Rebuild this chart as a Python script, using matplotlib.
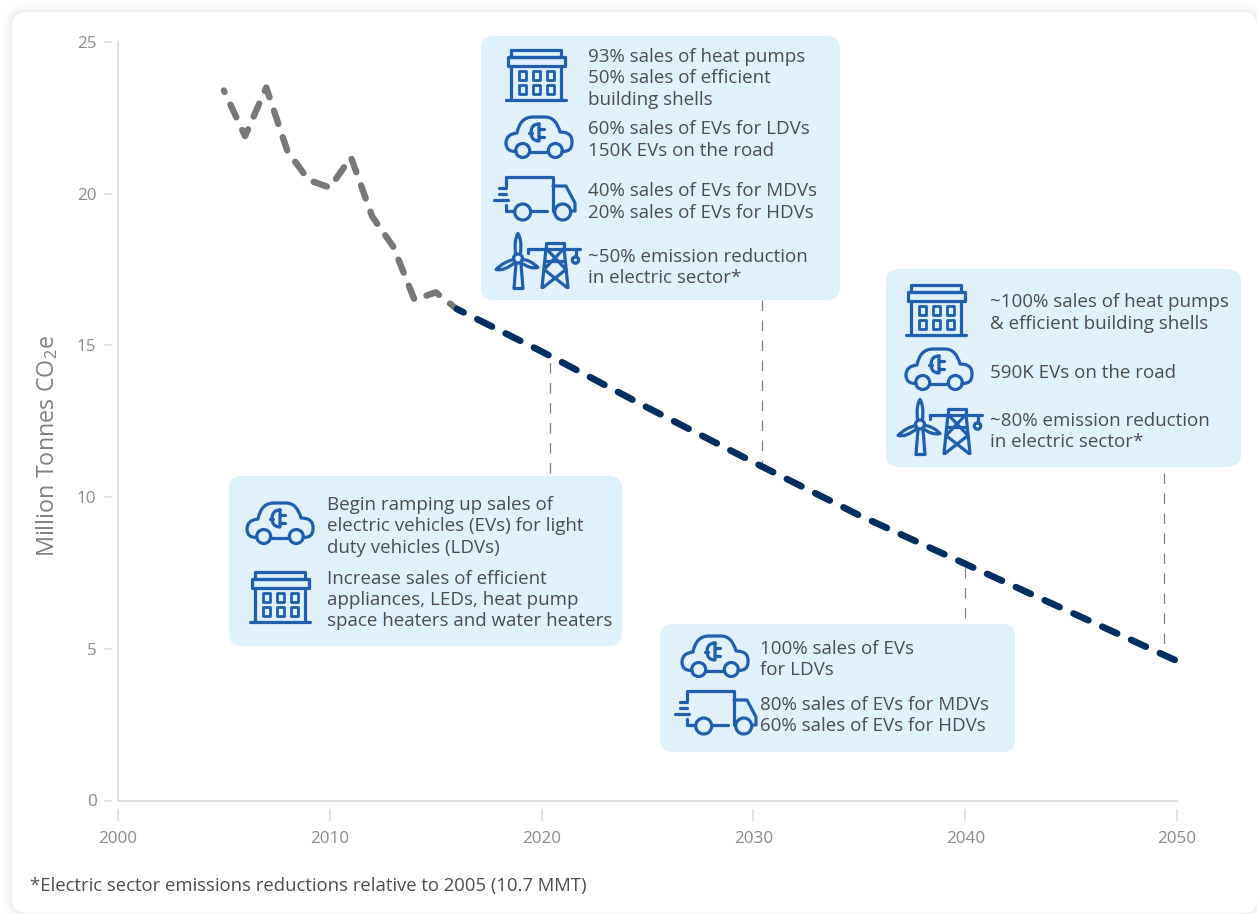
import matplotlib
matplotlib.use("Agg")
import matplotlib.pyplot as plt
from matplotlib.patches import FancyBboxPatch, Circle, Rectangle, PathPatch
from matplotlib.path import Path

plt.rcParams['font.family'] = ['Open Sans', 'DejaVu Sans']
plt.rcParams['mathtext.default'] = 'regular'

W, H = 1257, 914

hist_years = [2005, 2006, 2007, 2008, 2009, 2010, 2011, 2012, 2013, 2014, 2015, 2016]
hist_values = [23.4, 21.9, 23.5, 21.4, 20.45, 20.2, 21.2, 19.25, 18.25, 16.5, 16.75, 16.2]
proj_years = [2016, 2020, 2025, 2030, 2035, 2040, 2045, 2050]
proj_values = [16.2, 14.8, 12.95, 11.15, 9.4, 7.8, 6.2, 4.6]

x_ticks = [2000, 2010, 2020, 2030, 2040, 2050]
y_ticks = [0, 5, 10, 15, 20, 25]

# year, line top, line bottom
leader_years = [2020.4, 2030.4, 2040.0, 2049.4]
leader_tops = [14.6, 11.0, 7.75, 4.85]
leader_bottoms = [10.8, 16.5, 6.03, 10.8]

box_top_text = ["93% sales of heat pumps", "50% sales of efficient", "building shells",
                "60% sales of EVs for LDVs", "150K EVs on the road",
                "40% sales of EVs for MDVs", "20% sales of EVs for HDVs",
                "~50% emission reduction", "in electric sector*"]
box_right_text = ["~100% sales of heat pumps", "& efficient building shells",
                  "590K EVs on the road",
                  "~80% emission reduction", "in electric sector*"]
box_left_text = ["Begin ramping up sales of", "electric vehicles (EVs) for light",
                 "duty vehicles (LDVs)",
                 "Increase sales of efficient", "appliances, LEDs, heat pump",
                 "space heaters and water heaters"]
box_bottom_text = ["100% sales of EVs", "for LDVs",
                   "80% sales of EVs for MDVs", "60% sales of EVs for HDVs"]

footnote = "*Electric sector emissions reductions relative to 2005 (10.7 MMT)"

BLUE = "#1f5fae"
BOX = "#dff1fa"
TXT = "#4d4d4f"
AXIS = "#dcdcdc"
TICKTXT = "#8c8c8c"

fig = plt.figure(figsize=(W / 100, H / 100), dpi=100, facecolor="#ffffff")

# full-figure layer in pixel units for the card, boxes and icons
bg = fig.add_axes([0, 0, 1, 1], zorder=0)
bg.set_xlim(0, W)
bg.set_ylim(H, 0)
bg.axis("off")

for grow, a in [(9, 0.008), (7, 0.01), (5, 0.012), (3, 0.016), (1.5, 0.02)]:
    bg.add_patch(FancyBboxPatch((12 - grow, 12 - grow), 1245 + 2 * grow, 901 + 2 * grow,
                                boxstyle="round,pad=0,rounding_size=%g" % (14 + grow),
                                fc="#000000", ec="none", alpha=a))
bg.add_patch(FancyBboxPatch((12, 12), 1245, 901, boxstyle="round,pad=0,rounding_size=14",
                            fc="white", ec="none"))

ax = fig.add_axes([118 / W, 1 - 800.5 / H, (1177 - 118) / W, (800.5 - 42) / H], zorder=1)
ax.patch.set_alpha(0)
ax.set_xlim(2000, 2050)
ax.set_ylim(0, 25)
ax.set_xticks(x_ticks)
ax.set_yticks(y_ticks)
for s in ["top", "right"]:
    ax.spines[s].set_visible(False)
# ticks sit a little away from the axis lines
ax.spines["left"].set_position(("outward", 4))
ax.spines["bottom"].set_position(("outward", 6))
ax.spines["left"].set_visible(False)
ax.spines["bottom"].set_visible(False)
ax.axvline(2000, color=AXIS, lw=1.3, clip_on=False, zorder=1)
ax.axhline(0, color=AXIS, lw=1.3, clip_on=False, zorder=1)
ax.tick_params(axis="y", length=6, width=1.1, color=AXIS, labelcolor=TICKTXT, labelsize=12.3, pad=5.5)
ax.tick_params(axis="x", length=8.5, width=1.1, color=AXIS, labelcolor=TICKTXT, labelsize=12.3, pad=7.5)
ax.set_ylabel("Million Tonnes CO$_2$e", fontsize=16.8, color="#808080", labelpad=12, y=0.467)

# leaders are dashed starting from the box end
for x, t, b in zip(leader_years, leader_tops, leader_bottoms):
    ax.plot([x, x], [b, t], color="#808080", lw=0.9, dashes=(8.4, 7.6), zorder=2, clip_on=False)

ax.plot(hist_years, hist_values, color="#77787b", lw=4.6, ls=(1.95, (2.19, 2.19)), dash_capstyle="round",
        dash_joinstyle="round", zorder=3, clip_on=False)
ax.plot(proj_years, proj_values, color="#002f5f", lw=4.8, ls=(1.32, (2.45, 2.3)), dash_capstyle="round",
        zorder=4, clip_on=False)

# boxes and their contents go over the lines
top = fig.add_axes([0, 0, 1, 1], zorder=2)
top.set_xlim(0, W)
top.set_ylim(H, 0)
top.axis("off")

for x0, y0, x1, y1 in [(481, 36, 840, 300), (886, 269, 1241, 467), (229, 476, 622, 646), (660, 624, 1015, 752)]:
    top.add_patch(FancyBboxPatch((x0, y0), x1 - x0, y1 - y0, boxstyle="round,pad=0,rounding_size=13",
                                 fc=BOX, ec="none"))

for tx, ys, lines in [(588, [57, 78, 100, 129, 151, 191, 213, 257, 278], box_top_text),
                      (990, [302, 324, 373, 421, 442], box_right_text),
                      (327, [505, 526, 548, 579, 600, 621], box_left_text),
                      (760, [649, 670, 705, 726], box_bottom_text)]:
    for y, s in zip(ys, lines):
        top.text(tx, y, s, fontsize=13.5, color=TXT, va="center", ha="left")

top.text(30, 886, footnote, fontsize=13.3, color=TXT, va="center", ha="left")

LW = 2.3


def stroke(x, y, pts, codes=None):
    pts = [(x + px, y + py) for px, py in pts]
    if codes is None:
        codes = [Path.MOVETO] + [Path.LINETO] * (len(pts) - 1)
    top.add_patch(PathPatch(Path(pts, codes), fc="none", ec=BLUE, lw=LW, capstyle="round",
                            joinstyle="round"))


def ring(x, y, cx, cy, r):
    top.add_patch(Circle((x + cx, y + cy), r, fc="none", ec=BLUE, lw=LW))


def box(x, y, x0, y0, x1, y1, lw=LW):
    top.add_patch(Rectangle((x + x0, y + y0), x1 - x0, y1 - y0, fc="none", ec=BLUE, lw=lw, joinstyle="round"))


def building(x, y):
    box(x, y, 5, 0, 55, 7)
    box(x, y, 1.5, 7, 58.5, 16)
    stroke(x, y, [(5, 16), (5, 49.5)])
    stroke(x, y, [(55, 16), (55, 49.5)])
    stroke(x, y, [(0, 49.5), (60, 49.5)])
    for wy in [21, 35]:
        for wx in [13, 27, 41]:
            box(x, y, wx, wy, wx + 6.5, wy + 9, lw=2.0)


def car(x, y):
    c3 = Path.CURVE3
    l = Path.LINETO
    m = Path.MOVETO
    pts = [(10, 34.5), (0, 35), (0, 26), (0, 17), (11, 16), (14, 0), (27, 0), (39, 0),
           (50, 0), (54, 15), (67, 15), (66, 26), (66, 35), (56, 34.5)]
    codes = [m, c3, c3, c3, c3, c3, c3, l, c3, c3, c3, c3, c3, c3]
    stroke(x, y, pts, codes)
    stroke(x, y, [(24, 34.5), (42, 34.5)])
    ring(x, y, 16.7, 33.5, 7)
    ring(x, y, 49.3, 33.5, 7)
    # plug: flat side faces the prongs
    stroke(x, y, [(33, 7), (33, 24), (25, 24), (25, 15.5), (25, 7), (33, 7)],
           [m, l, c3, c3, c3, c3])
    stroke(x, y, [(23, 15.5), (26, 15.5)])
    stroke(x, y, [(33, 11.5), (38, 11.5)])
    stroke(x, y, [(33, 20), (38, 20)])


def truck(x, y):
    stroke(x, y, [(12, 9), (12, 0), (59, 0), (59, 34)])
    stroke(x, y, [(12, 28), (12, 34), (19, 34)])
    stroke(x, y, [(37, 34), (53, 34)])
    stroke(x, y, [(59, 9), (72, 9), (81, 26), (81, 34), (78, 34)])
    stroke(x, y, [(5, 11), (12, 11)])
    stroke(x, y, [(5, 17), (12, 17)])
    stroke(x, y, [(0, 23), (14, 23)])
    ring(x, y, 28.7, 35, 8)
    ring(x, y, 68.7, 35, 8)


def turbine_tower(x, y):
    m = Path.MOVETO
    c3 = Path.CURVE3
    # turbine
    ring(x, y, 22, 25, 4.5)
    stroke(x, y, [(19.5, 20), (18, 6), (22, 0), (26, 6), (24.5, 20)], [m, c3, c3, c3, c3])
    stroke(x, y, [(18, 26), (8, 28), (0, 36), (8, 38), (19, 29)], [m, c3, c3, c3, c3])
    stroke(x, y, [(26, 26), (34, 26), (42, 34), (34, 36), (25, 29)], [m, c3, c3, c3, c3])
    stroke(x, y, [(20, 30), (18, 55), (27, 55), (25, 30)])
    # pylon
    stroke(x, y, [(32, 15), (84, 15)])
    stroke(x, y, [(32, 15), (32, 19)])
    stroke(x, y, [(50, 15), (50, 9), (68, 9), (68, 15)])
    stroke(x, y, [(50, 15), (46, 54)])
    stroke(x, y, [(68, 15), (72, 54)])
    stroke(x, y, [(50, 15), (70, 36), (47, 54)])
    stroke(x, y, [(68, 15), (48, 36), (71, 54)])
    stroke(x, y, [(49, 27), (69, 27)])
    stroke(x, y, [(79.5, 15), (79.5, 23)])
    ring(x, y, 79.5, 26.5, 3.2)


building(506, 50)
car(506, 117)
truck(494, 177)
turbine_tower(496, 233.5)

building(906, 285)
car(906, 349)
turbine_tower(898, 399.5)

car(247, 503)
building(250, 572)

car(682, 636)
truck(675, 691)

fig.savefig("out.png", dpi=100, facecolor=fig.get_facecolor())
